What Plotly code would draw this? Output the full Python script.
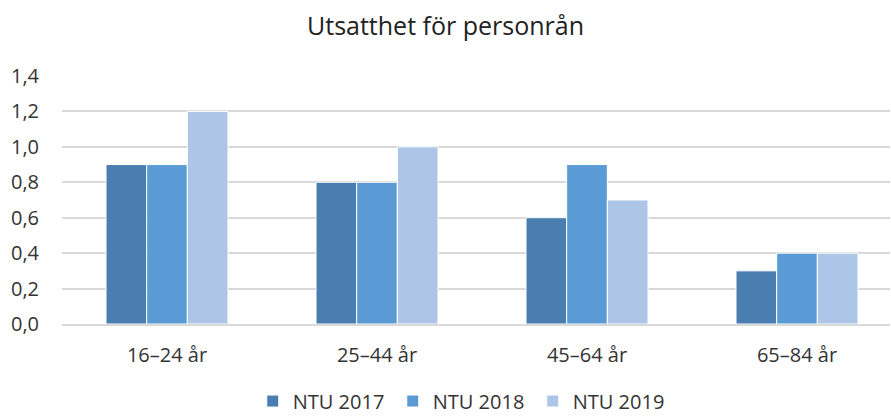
import plotly.graph_objects as go

categories = ["16–24 år", "25–44 år", "45–64 år", "65–84 år"]
ntu2017 = [0.9, 0.8, 0.6, 0.3]
ntu2018 = [0.9, 0.8, 0.9, 0.4]
ntu2019 = [1.2, 1.0, 0.7, 0.4]
series_names = ["NTU 2017", "NTU 2018", "NTU 2019"]
colors = ["#4a7eb0", "#5b9bd5", "#adc5e7"]

fig = go.Figure()
for name, vals, col in zip(series_names, [ntu2017, ntu2018, ntu2019], colors):
    fig.add_trace(go.Bar(x=categories, y=vals, name=name,
                         marker=dict(color=col, line=dict(color="white", width=1))))

font = "Open Sans, Segoe UI, sans-serif"
plot_w = 891 - 62 - 1
cat_px = 210  # reference chart is cropped on the right
fig.update_layout(
    width=891, height=416,
    margin=dict(l=62, r=1, t=76, b=92, autoexpand=False),
    paper_bgcolor="white", plot_bgcolor="white",
    barmode="group", bargap=0.419, bargroupgap=0,
    separators=", ",
    title=dict(text="Utsatthet för personrån", x=0.5, xanchor="center",
               y=0.9375, yanchor="middle",
               font=dict(family=font, size=25, color="#222222")),
    font=dict(family=font, size=20, color="#333333"),
    yaxis=dict(range=[0, 1.4], dtick=0.2, tickformat=".1f",
               gridcolor="#d9d9d9", gridwidth=2, zeroline=False,
               showline=False, ticks="", ticklabelstandoff=22,
               tickfont=dict(size=20, color="#333333")),
    xaxis=dict(showline=True, linecolor="#d9d9d9", linewidth=2, ticks="",
               range=[-0.5, -0.5 + plot_w / cat_px],
               ticklabelstandoff=12, tickfont=dict(size=20, color="#333333")),
    legend=dict(orientation="h", x=0.484, xanchor="center", y=-0.232, yanchor="top",
                font=dict(size=20, color="#333333"), itemwidth=30,
                entrywidth=95, traceorder="normal"),
    showlegend=True,
)
fig.write_html("out.html", config={"displayModeBar": False},
               post_script="document.body.style.margin='0';document.body.style.overflow='hidden';")
